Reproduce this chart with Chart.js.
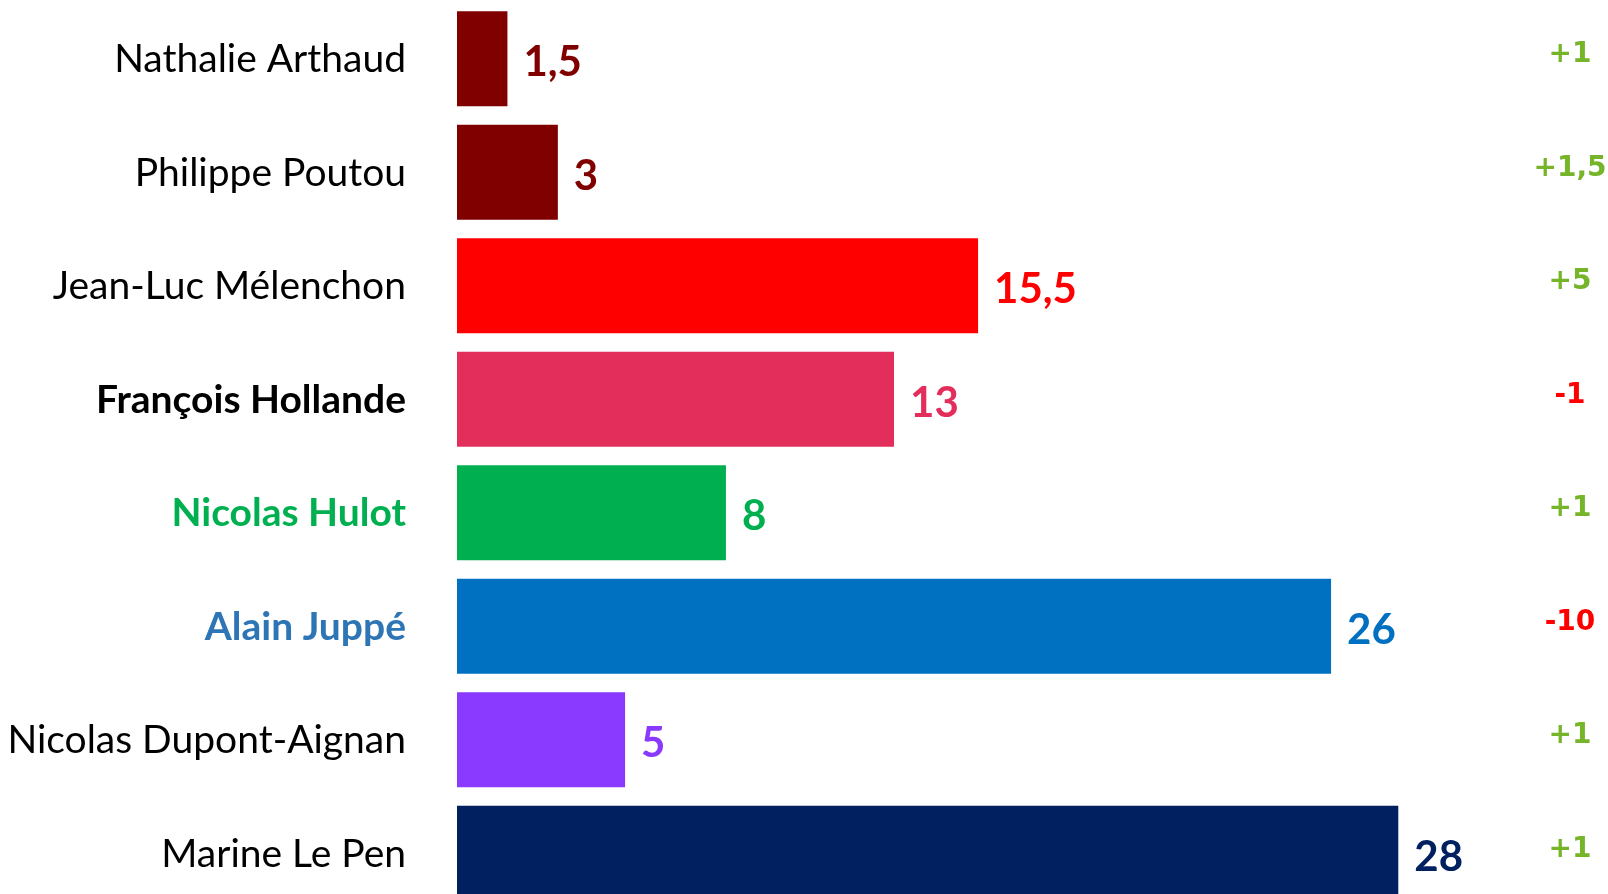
<!DOCTYPE html>
<html lang="fr">
<head>
    <meta charset="utf-8">
    <script src="https://cdn.jsdelivr.net/npm/chart.js@4.4.0/dist/chart.umd.min.js"></script>
    <style>
        html, body { margin: 0; padding: 0; overflow: hidden; background: #fff; }
        .chart-container { position: relative; width: 1608px; height: 912px; }
    </style>
</head>
<body>

<div class="chart-container">
    <canvas id="myChart"></canvas>
</div>

<script>
    // données
    const candidates = ["Nathalie Arthaud", "Philippe Poutou", "Jean-Luc Mélenchon", "François Hollande",
        "Nicolas Hulot", "Alain Juppé", "Nicolas Dupont-Aignan", "Marine Le Pen"];
    const scores = [1.5, 3, 15.5, 13, 8, 26, 5, 28];
    const changes = [1, 1.5, 5, -1, 1, -10, 1, 1];

    const barColors = ["#800000", "#800000", "#FF0000", "#E32E5B", "#00B050", "#0070C0", "#8A3AFF", "#002060"];
    const nameColors = ["#000", "#000", "#000", "#000", "#00B050", "#2E75B6", "#000", "#000"];
    const nameBold = [false, false, false, true, true, true, false, false];

    const fmt = v => String(v).replace(".", ",");

    // étiquettes de valeur au bout des barres + colonne des évolutions
    const labelsPlugin = {
        id: "labels",
        afterDatasetsDraw(chart) {
            const ctx = chart.ctx;
            const meta = chart.getDatasetMeta(0);
            ctx.save();
            ctx.textBaseline = "middle";
            meta.data.forEach((bar, i) => {
                ctx.font = "bold 42px Lato";
                ctx.fillStyle = barColors[i];
                ctx.textAlign = "left";
                ctx.fillText(fmt(scores[i]), bar.x + 16, bar.y + 4);

                const c = changes[i];
                ctx.font = "bold 28px 'DejaVu Sans'";
                ctx.fillStyle = c < 0 ? "#FF0000" : "#76B52A";
                ctx.textAlign = "center";
                ctx.fillText((c > 0 ? "+" : "") + fmt(c), chart.width - 38, bar.y - 4);
            });
            ctx.restore();
        }
    };

    const ctx = document.getElementById("myChart").getContext("2d");
    const myChart = new Chart(ctx, {
        type: "bar",
        data: {
            labels: candidates,
            datasets: [{
                data: scores,
                backgroundColor: barColors,
                barPercentage: 0.838,
                categoryPercentage: 1
            }]
        },
        options: {
            indexAxis: "y",
            responsive: true,
            maintainAspectRatio: false,
            animation: false,
            layout: { padding: { top: 2, bottom: 2, right: 8, left: 0 } },
            plugins: { legend: { display: false }, tooltip: { enabled: false } },
            scales: {
                x: { display: false, min: 0, max: 34 },
                y: {
                    grid: { display: false, drawTicks: false },
                    border: { display: false },
                    afterFit: scale => {
                        scale.width = 457;
                        scale.paddingTop = 0;
                        scale.paddingBottom = 0;
                    },
                    ticks: {
                        padding: 51,
                        labelOffset: 1,
                        color: c => nameColors[c.index],
                        font: c => ({ family: "Lato", size: 39, weight: nameBold[c.index] ? "bold" : "normal" })
                    }
                }
            }
        },
        plugins: [labelsPlugin]
    });
</script>

</body>
</html>
